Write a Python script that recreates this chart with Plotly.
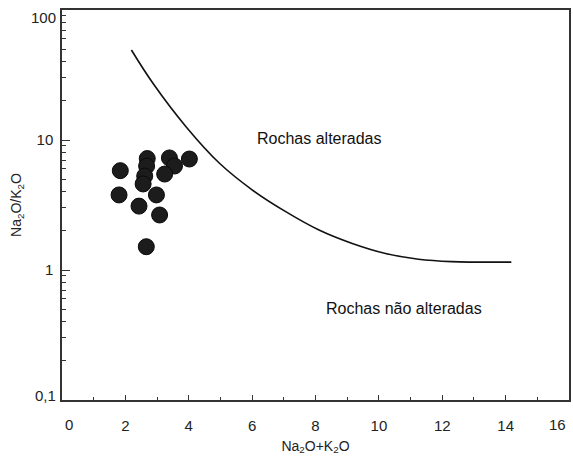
import numpy as np
import plotly.graph_objects as go

# Sample compositions: total alkalis vs. Na2O/K2O ratio
alkalis_total = [1.84, 1.80, 2.43, 2.69, 2.67, 2.61, 2.56, 2.98, 3.08, 2.66, 3.39, 3.55, 3.24, 4.02]
na_k_ratio = [5.81, 3.78, 3.10, 7.2, 6.3, 5.28, 4.59, 3.78, 2.65, 1.51, 7.28, 6.31, 5.47, 7.14]

# Boundary between altered and unaltered rocks
boundary_x = [2.19, 2.87, 3.92, 4.97, 6.01, 7.06, 8.11, 9.16, 10.21, 11.25, 12.30, 14.18]
boundary_y = [49.2, 27.3, 12.6, 6.62, 4.12, 2.81, 2.03, 1.60, 1.34, 1.21, 1.16, 1.15]

# Axis ticks
x_ticks = [2, 4, 6, 8, 10, 12, 14]
x_minor = [1, 3, 5, 7, 9, 11, 13, 15]
y_ticks = [1, 10]
y_tick_text = ["1", "10"]
y_minor = [m * 10.0 ** e for e in (-1, 0, 1) for m in range(2, 10)]

FONT = "Liberation Sans, Arial, sans-serif"
INK = "#222222"
FRAME = "#333333"

fig = go.Figure()

fig.add_trace(go.Scatter(
    x=boundary_x, y=boundary_y, mode="lines",
    line=dict(color="#111111", width=1.6, shape="spline", smoothing=1.0),
    hoverinfo="skip", showlegend=False,
))

fig.add_trace(go.Scatter(
    x=alkalis_total, y=na_k_ratio, mode="markers",
    marker=dict(size=16, color="#1c1c1c", line=dict(color="#0a0a0a", width=1)),
    showlegend=False,
))

fig.update_layout(
    width=573, height=463,
    margin=dict(l=62, r=2, t=10, b=63),
    paper_bgcolor="white", plot_bgcolor="white",
    font=dict(family=FONT, size=15, color=INK),
    showlegend=False,
)

fig.update_xaxes(
    range=[0, 16], showgrid=False, zeroline=False,
    showline=True, mirror=True, linecolor=FRAME, linewidth=1.5,
    tickmode="array", tickvals=x_ticks,
    ticks="inside", ticklen=5, tickcolor=FRAME,
    minor=dict(tickvals=x_minor, ticks="inside", ticklen=3, tickcolor=FRAME, showgrid=False),
    tickfont=dict(family=FONT, size=15, color=INK),
    ticklabelstandoff=11,
    title=dict(text="Na<sub>2</sub>O+K<sub>2</sub>O", font=dict(family=FONT, size=14, color=INK), standoff=8),
)

fig.update_yaxes(
    type="log", range=[-1, 2], showgrid=False, zeroline=False,
    showline=True, mirror=True, linecolor=FRAME, linewidth=1.5,
    tickmode="array", tickvals=y_ticks, ticktext=y_tick_text,
    ticks="inside", ticklen=8, tickcolor=FRAME,
    minor=dict(tickvals=y_minor, ticks="inside", ticklen=4, tickcolor=FRAME, showgrid=False),
    tickfont=dict(family=FONT, size=15, color=INK),
    ticklabelstandoff=4,
    title=dict(text="Na<sub>2</sub>O/K<sub>2</sub>O", font=dict(family=FONT, size=14, color=INK), standoff=12),
)

# End labels sit slightly inside the frame
end_label = dict(showarrow=False, font=dict(family=FONT, size=15, color=INK))
fig.add_annotation(text="0", x=0, xref="x", y=0, yref="paper", yanchor="top", yshift=-14, xshift=7, **end_label)
fig.add_annotation(text="16", x=16, xref="x", y=0, yref="paper", yanchor="top", yshift=-14, xshift=-12, **end_label)
fig.add_annotation(text="100", x=0, xref="paper", xanchor="right", xshift=-4, y=2, yref="y", yshift=-7, **end_label)
fig.add_annotation(text="0,1", x=0, xref="paper", xanchor="right", xshift=-4, y=-1, yref="y", yshift=5, **end_label)

# Field labels
field_font = dict(family=FONT, size=16, color="#111111")
fig.add_annotation(text="Rochas alteradas", x=8.14, y=np.log10(10.35), showarrow=False, font=field_font)
fig.add_annotation(text="Rochas não alteradas", x=10.8, y=np.log10(0.51), showarrow=False, font=field_font)

fig.write_html("out.html")
